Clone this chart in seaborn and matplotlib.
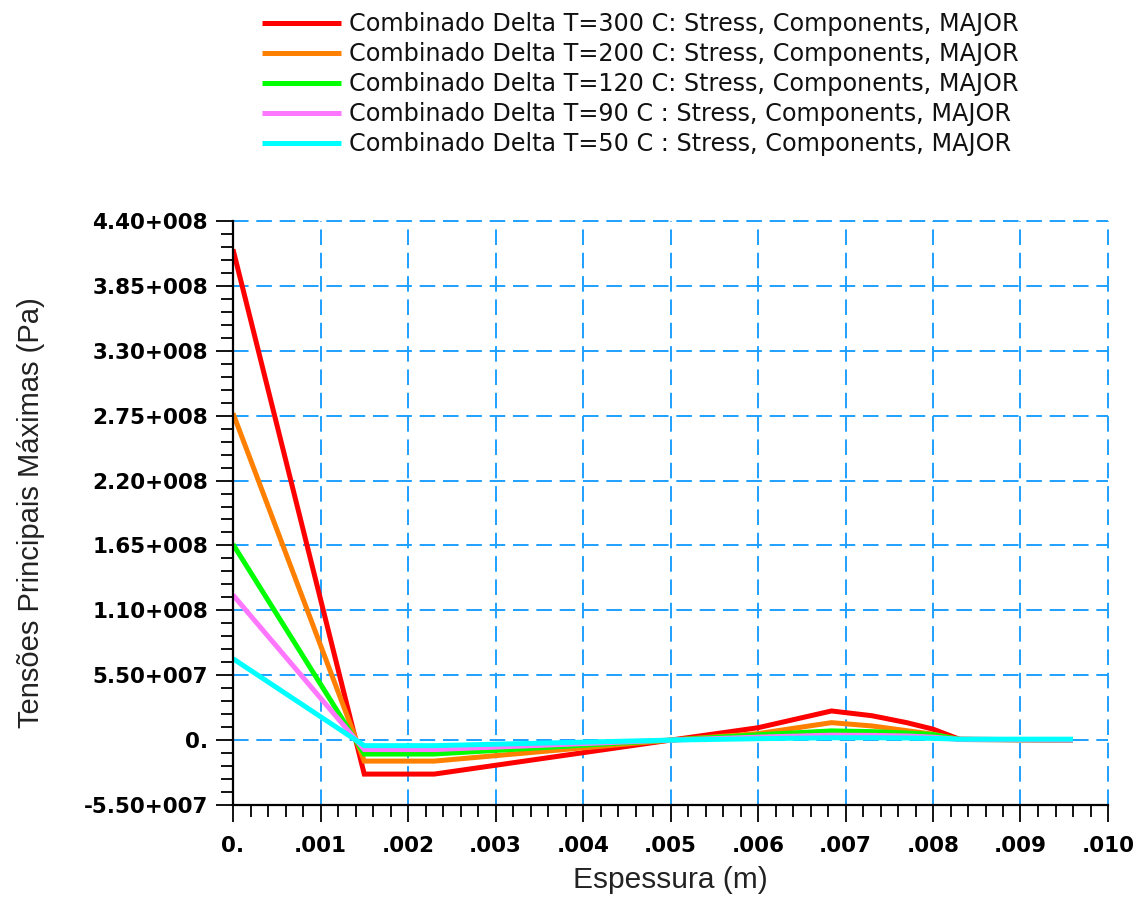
import numpy as np
import pandas as pd
import matplotlib
matplotlib.use("Agg")
import matplotlib.pyplot as plt
from matplotlib.ticker import FixedLocator, MultipleLocator, FixedFormatter
import seaborn as sns

# ---------------- data ----------------
thickness = [0.0, 0.0015, 0.0023, 0.0050, 0.0060, 0.00684, 0.0073, 0.0077, 0.0080, 0.0083, 0.0096]

stress_300 = [4.16e8, -2.88e7, -2.88e7, 0.0, 1.05e7, 2.47e7, 2.07e7, 1.48e7, 0.93e7, 0.08e7, 0.0]
stress_200 = [2.77e8, -1.78e7, -1.78e7, 0.0, 0.55e7, 1.48e7, 1.20e7, 0.80e7, 0.50e7, 0.06e7, 0.0]
stress_120 = [1.66e8, -1.18e7, -1.18e7, 0.0, 0.45e7, 0.78e7, 0.72e7, 0.60e7, 0.48e7, 0.05e7, 0.0]
stress_90 = [1.23e8, -0.80e7, -0.80e7, 0.0, 0.25e7, 0.42e7, 0.40e7, 0.35e7, 0.25e7, 0.05e7, 0.0]
stress_50 = [0.69e8, -0.47e7, -0.47e7, 0.0, 0.12e7, 0.20e7, 0.20e7, 0.18e7, 0.15e7, 0.08e7, 0.08e7]

series_labels = [
    "Combinado Delta T=300 C: Stress, Components, MAJOR",
    "Combinado Delta T=200 C: Stress, Components, MAJOR",
    "Combinado Delta T=120 C: Stress, Components, MAJOR",
    "Combinado Delta T=90 C : Stress, Components, MAJOR",
    "Combinado Delta T=50 C : Stress, Components, MAJOR",
]
series_colors = ["#ff0000", "#ff8000", "#00ff00", "#ff77ff", "#00ffff"]

y_tick_values = [-5.5e7, 0.0, 5.5e7, 1.10e8, 1.65e8, 2.20e8, 2.75e8, 3.30e8, 3.85e8, 4.40e8]
y_tick_labels = ["-5.50+007", "0.", "5.50+007", "1.10+008", "1.65+008", "2.20+008",
                 "2.75+008", "3.30+008", "3.85+008", "4.40+008"]
x_tick_values = [0.0, 0.001, 0.002, 0.003, 0.004, 0.005, 0.006, 0.007, 0.008, 0.009, 0.010]
x_tick_labels = ["0.", ".001", ".002", ".003", ".004", ".005", ".006", ".007", ".008", ".009", ".010"]

x_label = "Espessura (m)"
y_label = "Tensões Principais Máximas (Pa)"

# ---------------- build long table ----------------
all_series = [stress_300, stress_200, stress_120, stress_90, stress_50]
rows = []
for lab, vals in zip(series_labels, all_series):
    for xv, yv in zip(thickness, vals):
        rows.append({"x": xv, "y": yv, "serie": lab})
df = pd.DataFrame(rows)

sns.set_theme(style="white")
plt.rcParams["font.family"] = ["DejaVu Sans"]

W, H = 1143, 897
fig = plt.figure(figsize=(W / 100, H / 100), dpi=100)
ax = fig.add_axes([233 / W, 1 - 805 / H, (1108 - 233) / W, (805 - 221) / H])

sns.lineplot(data=df, x="x", y="y", hue="serie", hue_order=series_labels,
             palette=series_colors, sort=False, estimator=None, linewidth=3.6,
             ax=ax, legend=True)
for ln in ax.get_lines():
    ln.set_solid_capstyle("butt")
    ln.set_solid_joinstyle("miter")

ax.set_xlim(0, 0.010)
ax.set_ylim(-5.5e7, 4.4e8)

ax.xaxis.set_major_locator(FixedLocator(x_tick_values))
ax.xaxis.set_major_formatter(FixedFormatter(x_tick_labels))
ax.xaxis.set_minor_locator(MultipleLocator(0.0002))
ax.yaxis.set_major_locator(FixedLocator(y_tick_values))
ax.yaxis.set_major_formatter(FixedFormatter(y_tick_labels))
ax.yaxis.set_minor_locator(MultipleLocator(1.1e7))

ax.tick_params(axis="both", which="major", direction="out", length=12, width=1.3,
               color="black", labelsize=15.5, pad=6)
ax.tick_params(axis="both", which="minor", direction="out", length=8.5, width=1.3,
               color="black")
ax.tick_params(axis="x", which="major", pad=10)
ax.tick_params(bottom=True, left=True, which="both")
for lbl in ax.get_xticklabels() + ax.get_yticklabels():
    lbl.set_fontweight("bold")
    lbl.set_color("black")

for side in ["top", "right"]:
    ax.spines[side].set_visible(False)
for side in ["left", "bottom"]:
    ax.spines[side].set_color("black")
    ax.spines[side].set_linewidth(1.6)

ax.grid(True, which="major", color="#1ea0ff", linestyle=(0, (8, 4)), linewidth=1.4)
ax.set_axisbelow(True)
for gl in ax.xaxis.get_gridlines() + ax.yaxis.get_gridlines():
    gl.set_clip_on(False)

ax.set_xlabel(x_label, fontsize=21.5, family=["Liberation Sans", "DejaVu Sans"], color="#222222")
ax.set_ylabel(y_label, fontsize=21, family=["Liberation Sans", "DejaVu Sans"], color="#222222")
ax.xaxis.set_label_coords(0.5, -0.105)
ax.yaxis.set_label_coords(-(233 - 45) / 875, 0.5)

handles, labels = ax.get_legend_handles_labels()
ax.get_legend().remove()
leg = fig.legend(handles, labels, loc="upper left",
                 bbox_to_anchor=(262 / W, 1 - 12 / H), bbox_transform=fig.transFigure,
                 frameon=False, fontsize=17.2, handlelength=3.3, handletextpad=0.33,
                 labelspacing=0.25, borderpad=0, borderaxespad=0)
for t in leg.get_texts():
    t.set_color("#111111")
for lh in leg.get_lines():
    lh.set_linewidth(3.6)

fig.savefig("out.png", dpi=100, facecolor="white")
